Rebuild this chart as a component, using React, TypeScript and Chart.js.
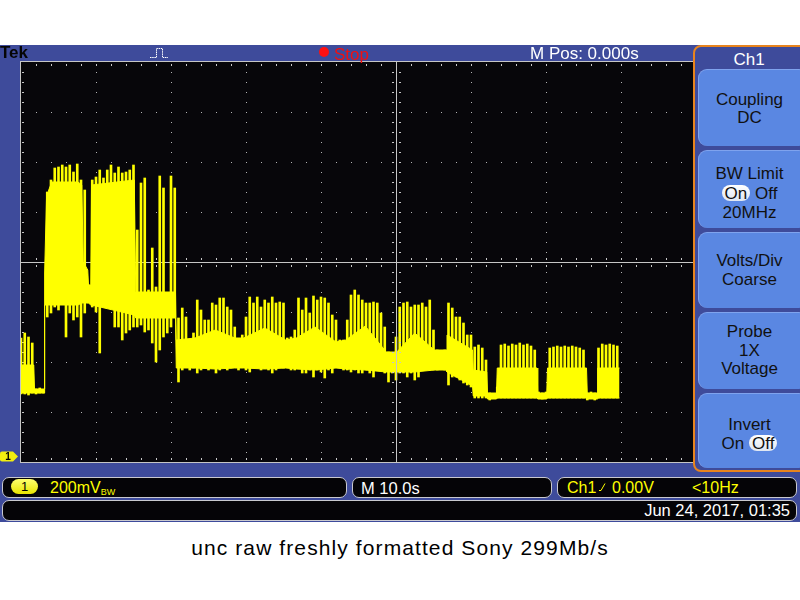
import React, { useEffect, useRef } from 'react';
import { Chart, registerables } from 'chart.js';

Chart.register(...registerables);

// ---- scope settings ----
const TIME_MIN = -50; // s (10.0 s/div, 10 divisions, M Pos 0.000s)
const TIME_MAX = 50;
const TIME_PER_DIV = 10;
const X_DIVS = 10;
const MV_PER_DIV = 200; // 200 mV/div
const Y_DIVS = 8;
const Y_MIN = -22; // mV at bottom of graticule (ground marker near bottom)
const Y_MAX = 1578;

// ---- dense core of the trace (envelope band) ----
const CORE_T = [-50.1, -48.3, -48.2, -46.9, -46.85, -46.6, -46.3, -45.9, -42.4, -41.9, -41.7, -41.1, -41.0, -40.7, -40.6, -34.9, -34.7, -29.4, -29.3, -26.8, -24.1, -21.5, -20.3, -17.5, -14.7, -13.3, -10.8, -8.0, -6.7, -4.1, -1.3, 0.1, 2.5, 5.1, 6.7, 6.8, 10.2, 10.3, 12.1, 12.2, 13.4, 13.5, 18.8, 18.9, 20.1, 20.2, 25.4, 25.5, 26.8, 26.9, 29.8];
const CORE_HI = [366, 366, 270, 270, 734, 1034, 1066, 1098, 1098, 1086, 778, 746, 686, 686, 1086, 1106, 658, 658, 466, 474, 506, 474, 474, 514, 466, 474, 518, 458, 466, 522, 418, 418, 494, 426, 426, 486, 426, 346, 338, 254, 254, 354, 354, 254, 254, 354, 354, 254, 254, 354, 354];
const CORE_LO = [254, 254, 254, 254, 606, 606, 606, 606, 606, 614, 614, 614, 614, 606, 606, 566, 554, 554, 354, 354, 350, 354, 354, 350, 354, 350, 346, 354, 350, 346, 338, 338, 338, 346, 346, 338, 282, 242, 242, 230, 230, 234, 234, 230, 230, 234, 234, 230, 230, 234, 234];

// ---- peak-detect samples (every 0.5 s): min / max in mV ----
const PEAK_T = [
  -50, -49.5, -49, -48.5, -48, -47.5, -47, -46.5, -46, -45.5,
  -45, -44.5, -44, -43.5, -43, -42.5, -42, -41.5, -41, -40.5,
  -40, -39.5, -39, -38.5, -38, -37.5, -37, -36.5, -36, -35.5,
  -35, -34.5, -34, -33.5, -33, -32.5, -32, -31.5, -31, -30.5,
  -30, -29.5, -29, -28.5, -28, -27.5, -27, -26.5, -26, -25.5,
  -25, -24.5, -24, -23.5, -23, -22.5, -22, -21.5, -21, -20.5,
  -20, -19.5, -19, -18.5, -18, -17.5, -17, -16.5, -16, -15.5,
  -15, -14.5, -14, -13.5, -13, -12.5, -12, -11.5, -11, -10.5,
  -10, -9.5, -9, -8.5, -8, -7.5, -7, -6.5, -6, -5.5,
  -5, -4.5, -4, -3.5, -3, -2.5, -2, -1.5, -1, -0.5,
  0, 0.5, 1, 1.5, 2, 2.5, 3, 3.5, 4, 4.5,
  5, 5.5, 6, 6.5, 7, 7.5, 8, 8.5, 9, 9.5,
  10, 10.5, 11, 11.5, 12, 12.5, 13, 13.5, 14, 14.5,
  15, 15.5, 16, 16.5, 17, 17.5, 18, 18.5, 19, 19.5,
  20, 20.5, 21, 21.5, 22, 22.5, 23, 23.5, 24, 24.5,
  25, 25.5, 26, 26.5, 27, 27.5, 28, 28.5, 29, 29.5,
];
const PEAK_HI = [
  474, 494, 478, 454, 270, 274, 266, 1058, 1106, 1154,
  1158, 1166, 1158, 1166, 1138, 1170, 1106, 1066, 686, 1106,
  1118, 1146, 1114, 1146, 1166, 1134, 1158, 1134, 1138, 1146,
  1166, 906, 1094, 1114, 666, 834, 678, 1122, 1074, 654,
  1122, 1074, 554, 594, 558, 466, 494, 626, 586, 546,
  546, 614, 606, 634, 634, 598, 586, 518, 466, 486,
  558, 638, 614, 638, 598, 626, 614, 638, 614, 618,
  614, 474, 478, 506, 634, 586, 634, 574, 642, 626,
  638, 634, 614, 566, 546, 466, 466, 546, 646, 666,
  646, 626, 614, 614, 618, 614, 574, 518, 418, 414,
  478, 598, 614, 618, 598, 606, 606, 614, 598, 626,
  506, 426, 418, 426, 614, 594, 558, 558, 534, 486,
  486, 438, 446, 434, 386, 254, 246, 278, 446, 450,
  442, 450, 446, 454, 446, 450, 442, 426, 258, 254,
  258, 434, 438, 442, 438, 442, 438, 442, 438, 434,
  426, 254, 258, 254, 434, 450, 446, 450, 446, 442,
];
const PEAK_LO = [
  250, 250, 246, 254, 250, 254, 254, 558, 574, 598,
  586, 626, 478, 574, 546, 558, 478, 574, 614, 598,
  578, 414, 598, 598, 598, 518, 518, 466, 494, 506,
  518, 518, 526, 498, 506, 454, 378, 426, 478, 494,
  518, 558, 298, 346, 358, 346, 354, 334, 346, 358,
  346, 354, 334, 346, 358, 346, 354, 358, 346, 358,
  346, 338, 358, 354, 346, 358, 346, 334, 346, 358,
  354, 358, 346, 346, 354, 334, 334, 346, 318, 346,
  338, 314, 346, 334, 358, 358, 346, 346, 338, 346,
  334, 334, 346, 334, 318, 346, 346, 334, 298, 334,
  306, 334, 334, 318, 334, 306, 318, 346, 346, 346,
  346, 346, 354, 346, 286, 318, 318, 306, 294, 286,
  278, 234, 234, 234, 234, 226, 234, 234, 234, 234,
  234, 234, 234, 234, 234, 234, 234, 234, 234, 230,
  234, 234, 234, 234, 234, 234, 234, 234, 234, 234,
  234, 226, 234, 226, 234, 234, 234, 234, 234, 234,
];

const YELLOW = '#ffff00';
const BLUE = '#3e4b9b';
const BTN = '#5a87e2';
const FONT = '"Liberation Sans", Arial, Helvetica, sans-serif';

const graticule = {
  id: 'graticule',
  beforeDatasetsDraw(chart: any) {
    const { ctx, chartArea: a, scales } = chart;
    const xs = scales.x;
    const ys = scales.y;
    const px = (v: number) => Math.round(xs.getPixelForValue(v));
    const py = (v: number) => Math.round(ys.getPixelForValue(v));
    ctx.save();
    ctx.fillStyle = '#07060a';
    ctx.fillRect(a.left, a.top, a.right - a.left, a.bottom - a.top);
    ctx.fillStyle = '#b4b4b4';
    // dotted vertical division lines
    for (let d = 1; d < X_DIVS; d++) {
      if (d === X_DIVS / 2) continue;
      const x = px(TIME_MIN + d * TIME_PER_DIV);
      for (let s = 1; s < Y_DIVS * 5; s++) ctx.fillRect(x, py(Y_MIN + (s * MV_PER_DIV) / 5), 1, 1);
    }
    // dotted horizontal division lines
    for (let d = 1; d < Y_DIVS; d++) {
      if (d === Y_DIVS / 2) continue;
      const y = py(Y_MIN + d * MV_PER_DIV);
      for (let s = 1; s < X_DIVS * 5; s++) ctx.fillRect(px(TIME_MIN + (s * TIME_PER_DIV) / 5), y, 1, 1);
    }
    // centre horizontal line with ticks
    ctx.fillStyle = '#c6c6c6';
    const yc = py(Y_MIN + (Y_DIVS / 2) * MV_PER_DIV);
    ctx.fillRect(a.left, yc, a.right - a.left, 1);
    for (let s = 1; s < X_DIVS * 5; s++) {
      const x = px(TIME_MIN + (s * TIME_PER_DIV) / 5);
      ctx.fillRect(x, yc - 4, 1, 2);
      ctx.fillRect(x, yc + 3, 1, 2);
    }
    // frame with inner ticks
    ctx.fillRect(a.left - 1, a.top - 1, a.right - a.left + 1, 1);
    ctx.fillRect(a.left - 1, a.bottom, a.right - a.left + 1, 1);
    ctx.fillRect(a.left - 1, a.top - 1, 1, a.bottom - a.top + 2);
    for (let s = 1; s < X_DIVS * 5; s++) {
      const x = px(TIME_MIN + (s * TIME_PER_DIV) / 5);
      ctx.fillRect(x, a.top + 2, 1, 2);
      ctx.fillRect(x, a.bottom - 4, 1, 2);
    }
    for (let s = 1; s < Y_DIVS * 5; s++) {
      const y = py(Y_MIN + (s * MV_PER_DIV) / 5);
      ctx.fillRect(a.left + 1, y, 2, 1);
    }
    ctx.restore();
  },
  afterDatasetsDraw(chart: any) {
    const { ctx, chartArea: a, scales } = chart;
    const xs = scales.x;
    const ys = scales.y;
    const px = (v: number) => Math.round(xs.getPixelForValue(v));
    const py = (v: number) => Math.round(ys.getPixelForValue(v));
    ctx.save();
    ctx.fillStyle = '#c6c6c6';
    const xc = px((TIME_MIN + TIME_MAX) / 2);
    ctx.fillRect(xc, a.top, 1, a.bottom - a.top);
    for (let s = 1; s < Y_DIVS * 5; s++) {
      const y = py(Y_MIN + (s * MV_PER_DIV) / 5);
      ctx.fillRect(xc - 4, y, 2, 1);
      ctx.fillRect(xc + 3, y, 2, 1);
    }
    // channel 1 ground marker
    const g = ys.getPixelForValue(0);
    ctx.fillStyle = '#f2ee10';
    ctx.beginPath();
    ctx.moveTo(2, g - 5);
    ctx.lineTo(13, g - 5);
    ctx.lineTo(18, g);
    ctx.lineTo(13, g + 5);
    ctx.lineTo(2, g + 5);
    ctx.quadraticCurveTo(0, g + 5, 0, g + 3);
    ctx.lineTo(0, g - 3);
    ctx.quadraticCurveTo(0, g - 5, 2, g - 5);
    ctx.fill();
    ctx.fillStyle = '#000';
    ctx.font = 'bold 10px ' + FONT;
    ctx.textAlign = 'center';
    ctx.textBaseline = 'middle';
    ctx.fillText('1', 8, g + 0.5);
    ctx.restore();
  },
};

const abs = (left: number, top: number, extra: any = {}) => ({
  position: 'absolute' as const,
  left,
  top,
  whiteSpace: 'nowrap' as const,
  ...extra,
});

function Pill({ children }: { children: any }) {
  return (
    <span
      style={{
        display: 'inline-block',
        background: 'linear-gradient(#ffffff, #dfe6f2)',
        borderRadius: 8,
        padding: '0 3px',
        lineHeight: '17px',
        height: 16,
      }}
    >
      {children}
    </span>
  );
}

const BUTTONS: { top: number; h: number; pad: number; lines: any[] }[] = [
  { top: 69, h: 77, pad: 2, lines: ['Coupling', 'DC'] },
  { top: 150, h: 78, pad: 8, lines: ['BW Limit', <span key="a"><Pill>On</Pill> Off</span>, '20MHz'] },
  { top: 232, h: 76, pad: 0, lines: ['Volts/Div', 'Coarse'] },
  { top: 312, h: 77, pad: 0, lines: ['Probe', '1X', 'Voltage'] },
  { top: 393, h: 75, pad: 8, lines: ['Invert', <span key="b">On <Pill>Off</Pill></span>] },
];

export default function App() {
  const ref = useRef<HTMLCanvasElement>(null);

  useEffect(() => {
    const canvas = ref.current;
    if (!canvas) return;
    const chart = new Chart(canvas, {
      type: 'line',
      data: {
        datasets: [
          {
            type: 'bar',
            label: 'peaks',
            data: PEAK_T.map((t, i) => ({ x: t, y: [PEAK_LO[i], PEAK_HI[i]] })) as any,
            backgroundColor: YELLOW,
            borderWidth: 0,
            barThickness: 2,
          } as any,
          {
            type: 'line',
            label: 'coreHi',
            data: CORE_T.map((t, i) => ({ x: t, y: CORE_HI[i] })),
            borderColor: YELLOW,
            backgroundColor: YELLOW,
            borderWidth: 1,
            pointRadius: 0,
            fill: '+1',
            tension: 0,
          },
          {
            type: 'line',
            label: 'coreLo',
            data: CORE_T.map((t, i) => ({ x: t, y: CORE_LO[i] })),
            borderColor: YELLOW,
            backgroundColor: YELLOW,
            borderWidth: 1,
            pointRadius: 0,
            fill: false,
            tension: 0,
          },
        ],
      },
      options: {
        animation: false,
        responsive: false,
        maintainAspectRatio: false,
        events: [],
        layout: { padding: { left: 21, top: 2, right: 4, bottom: 3 } },
        plugins: { legend: { display: false }, tooltip: { enabled: false } },
        scales: {
          x: { type: 'linear', min: TIME_MIN, max: TIME_MAX, display: false, offset: false, grid: { offset: false } },
          y: { type: 'linear', min: Y_MIN, max: Y_MAX, display: false },
        },
      },
      plugins: [graticule],
    });
    return () => chart.destroy();
  }, []);

  const box = (left: number, top: number, width: number, height: number) => ({
    position: 'absolute' as const,
    left,
    top,
    width,
    height,
    boxSizing: 'border-box' as const,
    background: '#050407',
    border: '1.5px solid #c9c9cf',
    borderRadius: 7,
  });

  return (
    <div
      style={{
        position: 'absolute',
        left: 0,
        top: 0,
        width: 800,
        height: 600,
        overflow: 'hidden',
        background: '#fff',
        fontFamily: FONT,
      }}
    >
      <div style={{ position: 'absolute', left: 0, top: 45, width: 800, height: 477, background: BLUE }} />
      <canvas
        ref={ref}
        width={775}
        height={405}
        style={{ position: 'absolute', left: 0, top: 60, width: 775, height: 405 }}
      />

      {/* top bar */}
      <div style={abs(0, 44, { fontSize: 17, lineHeight: '17px', fontWeight: 'bold', color: '#050505' })}>Tek</div>
      <svg style={{ position: 'absolute', left: 148, top: 46 }} width={22} height={14}>
        <path d="M2 11.5 H8.5 V2.5 H14.5 V11.5 H20" stroke="#ffffff" fill="none" strokeWidth={1} strokeDasharray="1.5 0.7" />
      </svg>
      <div style={{ position: 'absolute', left: 319, top: 47, width: 10, height: 10, borderRadius: 5, background: '#ff1010' }} />
      <div style={abs(334, 46, { fontSize: 17, lineHeight: '17px', color: '#f01010' })}>Stop</div>
      <div style={abs(530, 45, { fontSize: 17, lineHeight: '17px', color: '#ffffff' })}>M Pos: 0.000s</div>

      {/* side menu */}
      <div
        style={{
          position: 'absolute',
          left: 693,
          top: 45,
          width: 130,
          height: 427,
          boxSizing: 'border-box',
          border: '2px solid #e8841e',
          borderRadius: 8,
          background: BLUE,
        }}
      />
      <div style={abs(698, 51, { width: 102, textAlign: 'center', fontSize: 17, lineHeight: '17px', color: '#fff' })}>Ch1</div>
      {BUTTONS.map((b, i) => (
        <div
          key={i}
          style={{
            position: 'absolute',
            left: 698,
            top: b.top,
            width: 110,
            height: b.h,
            boxSizing: 'border-box',
            paddingTop: b.pad,
            paddingRight: 8,
            background: BTN,
            borderRadius: 9,
            borderTop: '1px solid #7fa3ee',
            borderLeft: '1px solid #7fa3ee',
            display: 'flex',
            flexDirection: 'column',
            justifyContent: 'center',
            alignItems: 'center',
            fontSize: 17,
            lineHeight: '18.5px',
            color: '#111',
          }}
        >
          {b.lines.map((l, j) => (
            <div key={j} style={{ whiteSpace: 'nowrap', lineHeight: typeof l === 'string' ? '18.5px' : '20px' }}>
              {l}
            </div>
          ))}
        </div>
      ))}

      {/* status bar */}
      <div style={box(2, 477, 345, 21)} />
      <div
        style={{
          position: 'absolute',
          left: 11,
          top: 479,
          width: 27,
          height: 15,
          borderRadius: 8,
          background: 'linear-gradient(#ffff70, #e8e400)',
          color: '#000',
          fontSize: 13,
          lineHeight: '15px',
          textAlign: 'center',
        }}
      >
        1
      </div>
      <div style={abs(50, 479.5, { fontSize: 16, lineHeight: '16px', color: YELLOW })}>
        200mV<span style={{ fontSize: 9, position: 'relative', top: 2 }}>BW</span>
      </div>

      <div style={box(352, 477, 200, 21)} />
      <div style={abs(361, 479.5, { fontSize: 16.5, lineHeight: '16px', color: '#fff' })}>M 10.0s</div>

      <div style={box(557, 477, 240, 21)} />
      <div style={abs(567, 479.5, { fontSize: 16, lineHeight: '16px', color: YELLOW })}>Ch1</div>
      <svg style={{ position: 'absolute', left: 597, top: 480 }} width={12} height={14}>
        <path d="M2 10.5 H4 L8 3.5" stroke={YELLOW} fill="none" strokeWidth={1} />
      </svg>
      <div style={abs(612, 479.5, { fontSize: 16, lineHeight: '16px', color: YELLOW })}>0.00V</div>
      <div style={abs(692, 479.5, { fontSize: 16, lineHeight: '16px', color: YELLOW })}>&lt;10Hz</div>

      <div style={box(2, 500, 795, 21)} />
      <div style={abs(0, 502, { width: 790, textAlign: 'right', fontSize: 16.5, lineHeight: '16px', color: '#fff' })}>
        Jun 24, 2017, 01:35
      </div>

      {/* caption */}
      <div
        style={abs(0, 536, {
          width: 800,
          textAlign: 'center',
          fontSize: 21,
          letterSpacing: '1.1px',
          lineHeight: '24px',
          color: '#000',
        })}
      >
        unc raw freshly formatted Sony 299Mb/s
      </div>
    </div>
  );
}
